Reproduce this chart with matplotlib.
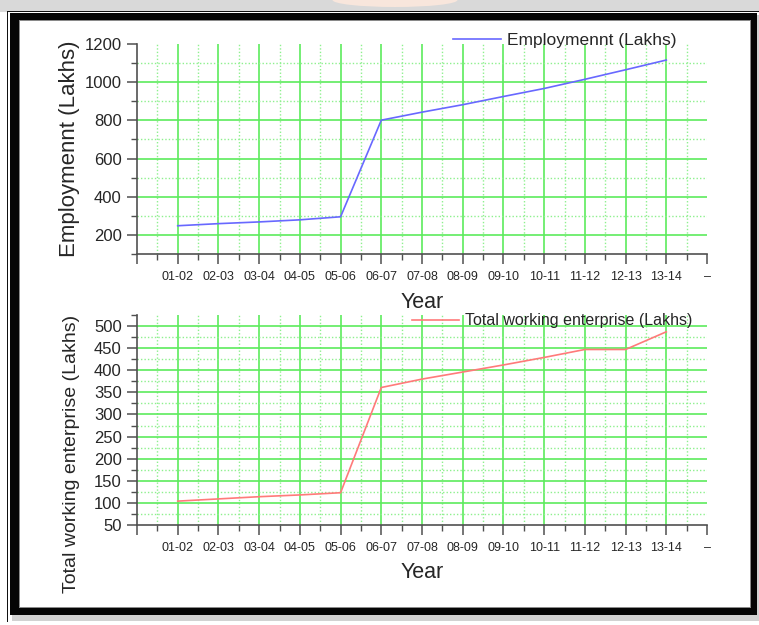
import numpy as np
import matplotlib
matplotlib.use("Agg")
import matplotlib.pyplot as plt
from matplotlib.patches import Rectangle, Ellipse

plt.rcParams["font.family"] = ["Liberation Sans", "DejaVu Sans"]

# ---- data -------------------------------------------------------------
years = ["01-02", "02-03", "03-04", "04-05", "05-06", "06-07", "07-08",
         "08-09", "09-10", "10-11", "11-12", "12-13", "13-14"]
employment = [248, 259, 268, 279, 295, 801, 843, 882, 925, 967, 1015, 1065, 1116]
enterprises = [104, 109, 114, 118, 123, 361, 380, 396, 412, 429, 447, 447, 487]
x_tick_labels = [""] + years + ["–"]

emp_label = "Employmennt (Lakhs)"
ent_label = "Total working enterprise (Lakhs)"

# ---- figure in pixel units -------------------------------------------
W, H = 759, 625
fig = plt.figure(figsize=(W / 100, H / 100), dpi=100, facecolor="white")


def fx(x):
    return x / W


def fy(y):
    return 1 - y / H


def px_rect(x0, y0, x1, y1, **kw):
    r = Rectangle((fx(x0), fy(y1)), (x1 - x0) / W, (y1 - y0) / H,
                  transform=fig.transFigure, zorder=-10, **kw)
    fig.patches.append(r)


# page background and framed box
px_rect(0, 0, W, 11.5, color="#d9d9d9", lw=0)
fig.patches.append(Ellipse((fx(395), fy(0)), 125 / W, 14 / H,
                           transform=fig.transFigure, color="#f8e6dc",
                           lw=0, zorder=-9))
px_rect(7, 11.2, W, 12.4, color="#111111", lw=0)
px_rect(7, 11.2, 8.2, 622, color="#111111", lw=0)
px_rect(12, 614, 757, 621, color="#d2d2d2", lw=0)
px_rect(757, 15, W, 621, color="#d2d2d2", lw=0)
px_rect(9.5, 13.2, 757, 615, color="#050505", lw=0)
px_rect(18.5, 19.5, 750.5, 608, color="#8a8a8a", lw=0)
px_rect(19.5, 20.5, 749.5, 607, color="white", lw=0)

positions = np.arange(1, len(years) + 1)
x_major = np.arange(0, len(years) + 2)
x_minor = np.arange(0.5, len(years) + 1.5, 1.0)

spine_col = "#505050"
text_col = "#262626"


def style_axes(ax, ymin, ymax, y_major, y_minor):
    ax.set_facecolor("none")
    for side in ("top", "right"):
        ax.spines[side].set_visible(False)
    for side in ("left", "bottom"):
        ax.spines[side].set_color(spine_col)
        ax.spines[side].set_linewidth(1.2)

    ax.set_xlim(x_major[0], x_major[-1])
    ax.set_ylim(ymin, ymax)
    ax.set_xticks(x_major)
    ax.set_xticklabels(x_tick_labels)
    ax.set_xticks(x_minor, minor=True)
    ax.set_yticks(y_major)
    ax.set_yticks(y_minor, minor=True)

    ax.tick_params(which="major", direction="out", length=7, width=1.1,
                   color=spine_col)
    ax.tick_params(which="minor", direction="out", length=4, width=1.0,
                   color=spine_col)
    ax.tick_params(axis="x", which="major", labelsize=9, pad=5,
                   labelcolor=text_col)
    ax.tick_params(axis="y", which="major", labelsize=12, pad=4,
                   labelcolor=text_col)

    ax.grid(True, which="major", color="#5ceb5c", lw=1.2, ls="-")
    ax.grid(True, which="minor", color="#8ef08e", lw=1.0, ls=(0, (1, 1.5)))
    ax.set_axisbelow(True)

    # no grid lines on the frame edges
    for t, loc in zip(ax.xaxis.get_major_ticks(), x_major):
        if loc in (x_major[0], x_major[-1]):
            t.gridline.set_visible(False)
    for t, loc in zip(ax.yaxis.get_major_ticks(), y_major):
        if loc in (ymin, ymax):
            t.gridline.set_visible(False)
    for t, loc in zip(ax.yaxis.get_minor_ticks(), y_minor):
        if loc in (ymin, ymax):
            t.gridline.set_visible(False)


# ---- upper panel: employment -----------------------------------------
ax1 = fig.add_axes([fx(137), fy(254), 570 / W, 210 / H])
style_axes(ax1, 100, 1200, np.arange(200, 1201, 200), np.arange(100, 1200, 200))
ax1.plot(positions, employment, color="#6868ff", lw=1.2, label=emp_label)
ax1.legend(loc="center left", bbox_to_anchor=(fx(453), fy(40)),
           bbox_transform=fig.transFigure, frameon=False, fontsize=12.5,
           handlelength=2.75, handletextpad=0.35, borderpad=0,
           borderaxespad=0, labelcolor=text_col)

# ---- lower panel: working enterprises --------------------------------
ax2 = fig.add_axes([fx(137), fy(525), 570 / W, 210 / H])
style_axes(ax2, 50, 525, np.arange(50, 501, 50), np.arange(75, 526, 50))
ax2.plot(positions, enterprises, color="#ff7a7a", lw=1.2, label=ent_label)
ax2.legend(loc="center left", bbox_to_anchor=(fx(412), fy(321)),
           bbox_transform=fig.transFigure, frameon=False, fontsize=11.5,
           handlelength=2.95, handletextpad=0.38, borderpad=0,
           borderaxespad=0, labelcolor=text_col)

# ---- axis titles -----------------------------------------------------
fig.text(fx(69), fy(149), emp_label, rotation=90, ha="center", va="center",
         fontsize=16, color=text_col)
fig.text(fx(71.5), fy(454), ent_label, rotation=90, ha="center",
         va="center", fontsize=14, color=text_col)
fig.text(fx(422), fy(308), "Year", ha="center", va="baseline",
         fontsize=15.5, color=text_col)
fig.text(fx(422), fy(578), "Year", ha="center", va="baseline",
         fontsize=15.5, color=text_col)

fig.savefig("out.png", dpi=100)
